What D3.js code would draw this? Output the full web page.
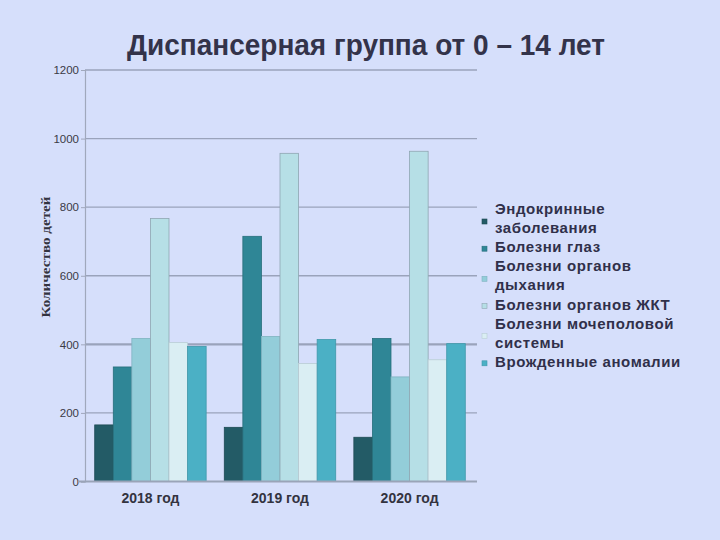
<!DOCTYPE html>
<html><head><meta charset="utf-8">
<script src="https://cdn.jsdelivr.net/npm/d3@7"></script>
<style>html,body{margin:0;padding:0;background:#d6dffb;}svg{display:block;}</style>
</head><body>
<svg id="c" width="720" height="540"></svg>
<script>
const title = "Диспансерная группа от 0 – 14 лет";
const yTitle = "Количество детей";
const categories = ["2018 год", "2019 год", "2020 год"];
const seriesNames = ["Эндокринные заболевания", "Болезни глаз", "Болезни органов дыхания", "Болезни органов ЖКТ", "Болезни мочеполовой системы", "Врожденные аномалии"];
const legendLines = [["Эндокринные", "заболевания"], ["Болезни глаз"], ["Болезни органов", "дыхания"], ["Болезни органов ЖКТ"], ["Болезни мочеполовой", "системы"], ["Врожденные аномалии"]];
const endocrine = [165, 158, 129];
const eyes = [334, 715, 417];
const respiratory = [417, 423, 305];
const digestive = [767, 957, 963];
const urogenital = [405, 344, 355];
const congenital = [394, 414, 402];
const yTicks = [0, 200, 400, 600, 800, 1000, 1200];
const colors = ["#235b66", "#2f8696", "#93cdd9", "#b6dfe6", "#daeef3", "#4bb0c5"];
const strokes = ["#1d4a53", "#276f7c", "#7fb3c0", "#8fa6b2", "#b9cdd4", "#3f98aa"];

const seriesValues = [endocrine, eyes, respiratory, digestive, urogenital, congenital];
const svg = d3.select("#c");
svg.append("rect").attr("width", 720).attr("height", 540).attr("fill", "#d6dffb");

const x0 = d3.scaleBand().domain(categories).range([85, 475]).paddingInner(0.14).paddingOuter(0.075);
const x1 = d3.scaleBand().domain(d3.range(seriesNames.length)).range([0, x0.bandwidth()]);
const y = d3.scaleLinear().domain([0, 1200]).range([481.5, 70]);

// title
svg.append("text").attr("x", 366).attr("y", 55).attr("text-anchor", "middle")
  .attr("font-family", "Liberation Sans, Arial, sans-serif").attr("font-weight", "bold")
  .attr("font-size", 30).attr("fill", "#33334a")
  .attr("textLength", 478).attr("lengthAdjust", "spacingAndGlyphs").text(title);

// gridlines
svg.append("g").selectAll("line").data(yTicks.filter(d => d > 0)).join("line")
  .attr("x1", 85).attr("x2", 477).attr("y1", d => y(d)).attr("y2", d => y(d))
  .attr("stroke", "#9aa3bb").attr("stroke-width", d => d === 400 ? 2.2 : 1.4);

// y axis
const yAxis = d3.axisLeft(y).tickValues(yTicks).tickSize(4).tickFormat(d3.format("d"));
const gy = svg.append("g").attr("transform", "translate(85,0)").call(yAxis);
gy.select(".domain").attr("stroke", "#a0a8bc").attr("stroke-width", 1.2);
gy.selectAll(".tick line").attr("stroke", "#a0a8bc");
gy.selectAll(".tick text").attr("font-family", "Liberation Sans, Arial, sans-serif")
  .attr("font-size", 11.5).attr("fill", "#3a3a46").attr("x", -6);

// bars
const groups = svg.append("g").selectAll("g").data(categories).join("g")
  .attr("transform", d => `translate(${x0(d)},0)`);
groups.selectAll("rect").data((c, ci) => seriesValues.map((vals, si) => ({si, v: vals[ci]}))).join("rect")
  .attr("x", d => x1(d.si)).attr("width", x1.bandwidth())
  .attr("y", d => y(d.v)).attr("height", d => y(0) - y(d.v))
  .attr("fill", d => colors[d.si]).attr("stroke", d => strokes[d.si]).attr("stroke-width", 0.8);

// x axis
const xAxis = d3.axisBottom(x0).tickSize(0).tickPadding(9);
const gx = svg.append("g").attr("transform", `translate(0,${y(0)})`).call(xAxis);
gx.select(".domain").attr("stroke", "#9aa4b8").attr("stroke-width", 2).attr("d", "M78,0H477");
gx.selectAll(".tick text").attr("font-family", "Liberation Sans, Arial, sans-serif")
  .attr("font-weight", "bold").attr("font-size", 14).attr("fill", "#33333f").attr("dy", "0.9em");

// y title
svg.append("text").attr("transform", "translate(50,257) rotate(-90)").attr("text-anchor", "middle")
  .attr("font-family", "Liberation Serif, Times New Roman, serif").attr("font-weight", "bold")
  .attr("font-size", 13).attr("fill", "#33333f").attr("textLength", 121)
  .attr("lengthAdjust", "spacingAndGlyphs").text(yTitle);

// legend
const lineH = 19.1;
let lineIdx = 0;
const lg = svg.append("g");
legendLines.forEach((lines, i) => {
  const first = 214 + lineIdx * lineH;
  const markerY = lines.length === 1 ? first - 6 : first + 5;
  lg.append("rect").attr("x", 482).attr("y", markerY).attr("width", 5).attr("height", 5)
    .attr("fill", colors[i]).attr("stroke", strokes[i]).attr("stroke-width", 0.6);
  lines.forEach((t, k) => {
    lg.append("text").attr("x", 495).attr("y", first + k * lineH)
      .attr("font-family", "Liberation Sans, Arial, sans-serif").attr("font-weight", "bold")
      .attr("font-size", 15).attr("fill", "#30304a").attr("letter-spacing", 0.6).text(t);
  });
  lineIdx += lines.length;
});
</script>
</body></html>
